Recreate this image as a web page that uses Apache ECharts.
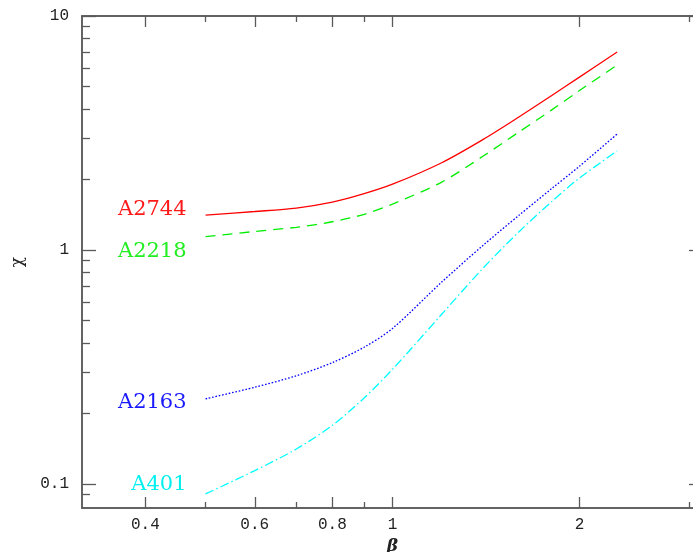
<!DOCTYPE html>
<html>
<head>
<meta charset="utf-8">
<script src="https://cdn.jsdelivr.net/npm/echarts@6/dist/echarts.min.js"></script>
<style>html,body{margin:0;padding:0;background:#fff;}#c{width:693px;height:552px;}</style>
</head>
<body>
<div id="c"></div>
<script>
const betaValues = [0.5, 0.6, 0.7, 0.8, 0.9, 1.0, 1.2, 1.4, 1.6, 1.8, 2.0, 2.3];
const chiA2744 = [1.41, 1.46, 1.51, 1.60, 1.74, 1.91, 2.36, 2.97, 3.71, 4.55, 5.48, 7.02];
const chiA2218 = [1.14, 1.20, 1.25, 1.32, 1.42, 1.57, 1.95, 2.52, 3.20, 3.95, 4.80, 6.17];
const chiA2163 = [0.231, 0.259, 0.290, 0.330, 0.384, 0.462, 0.729, 1.048, 1.41, 1.82, 2.28, 3.13];
const chiA401 = [0.0906, 0.114, 0.141, 0.178, 0.233, 0.309, 0.531, 0.838, 1.20, 1.60, 2.03, 2.65];
const seriesNames = ['A2744', 'A2218', 'A2163', 'A401'];
const xMajorTicks = [0.4, 0.6, 0.8, 1, 2];
const xMinorTicks = [0.5, 0.7, 0.9, 3];
const yMajorTicks = [0.1, 1, 10];
const yMinorTicks = [0.09, 0.2, 0.3, 0.4, 0.5, 0.6, 0.7, 0.8, 0.9, 2, 3, 4, 5, 6, 7, 8, 9];

const X_MIN = 0.3162, X_MAX = 3.162, Y_MIN = 0.0789, Y_MAX = 10;
const AX = '#5a5a5a';

function xAxisDef(pos, ticks, len, labels, extra) {
  return Object.assign({
    type: 'log', logBase: 10, min: X_MIN, max: X_MAX, position: pos,
    axisLine: { show: true, lineStyle: { color: AX, width: 1.5 } },
    axisTick: { show: true, inside: true, length: len, customValues: ticks, lineStyle: { color: AX, width: 1.3 } },
    axisLabel: labels ? { show: true, customValues: xMajorTicks, margin: 9, color: '#222', fontFamily: 'Liberation Mono', fontSize: 16 } : { show: false },
    splitLine: { show: false }, minorTick: { show: false }
  }, extra || {});
}
function yAxisDef(pos, ticks, len, labels, extra) {
  return Object.assign({
    type: 'log', logBase: 10, min: Y_MIN, max: Y_MAX, position: pos,
    axisLine: { show: true, lineStyle: { color: AX, width: 1.5 } },
    axisTick: { show: true, inside: true, length: len, customValues: ticks, lineStyle: { color: AX, width: 1.3 } },
    axisLabel: labels ? { show: true, customValues: yMajorTicks, margin: 13, color: '#222', fontFamily: 'Liberation Mono', fontSize: 16 } : { show: false },
    splitLine: { show: false }, minorTick: { show: false }
  }, extra || {});
}

function buildData(ys, labelOpts) {
  return betaValues.map((b, i) => {
    const item = { value: [b, ys[i]] };
    if (i === 0) item.label = Object.assign({ show: true }, labelOpts);
    return item;
  });
}

const labelBase = { position: 'left', distance: 19, fontFamily: 'DejaVu Serif', fontSize: 21 };
const colors = ['#ff0000', '#00ee00', '#0000ff', '#00ffff'];
const labelColors = ['#ff1a1a', '#22ee22', '#1a1aff', '#00f0f0'];
const dashes = ['solid', [10, 7], [1.6, 1.8], [9, 3, 1.5, 3]];
const offsets = [[0, -6], [0, 15], [0, 4], [0, -9]];
const allY = [chiA2744, chiA2218, chiA2163, chiA401];

const series = allY.map((ys, k) => ({
  name: seriesNames[k],
  type: 'line',
  xAxisIndex: 0, yAxisIndex: 0,
  smooth: 0.3,
  symbol: 'circle', symbolSize: 0, showSymbol: true,
  lineStyle: { color: colors[k], width: 1.3, type: dashes[k] },
  itemStyle: { color: colors[k] },
  label: { show: false },
  data: buildData(ys, Object.assign({}, labelBase, { color: labelColors[k], offset: offsets[k], formatter: seriesNames[k] })),
  silent: true, animation: false
}));

const chart = echarts.init(document.getElementById('c'));
chart.setOption({
  backgroundColor: '#fff',
  animation: false,
  grid: { left: 82, top: 16, width: 621, height: 492, containLabel: false, outerBoundsMode: 'none' },
  xAxis: [
    xAxisDef('bottom', xMajorTicks, 11, true, { name: 'β', nameLocation: 'middle', nameGap: 24, nameTextStyle: { fontFamily: 'DejaVu Serif', fontStyle: 'italic', fontWeight: 'bold', fontSize: 17, color: '#222' } }),
    xAxisDef('bottom', xMinorTicks, 6, false),
    xAxisDef('top', xMajorTicks, 11, false),
    xAxisDef('top', xMinorTicks, 6, false)
  ],
  yAxis: [
    yAxisDef('left', yMajorTicks, 14, true, { name: 'χ', nameLocation: 'middle', nameGap: 56, nameTextStyle: { fontFamily: 'DejaVu Serif', fontSize: 17, color: '#222' } }),
    yAxisDef('left', yMinorTicks, 8, false),
    yAxisDef('right', yMajorTicks, 14, false),
    yAxisDef('right', yMinorTicks, 8, false)
  ],
  series: series
});
</script>
</body>
</html>
